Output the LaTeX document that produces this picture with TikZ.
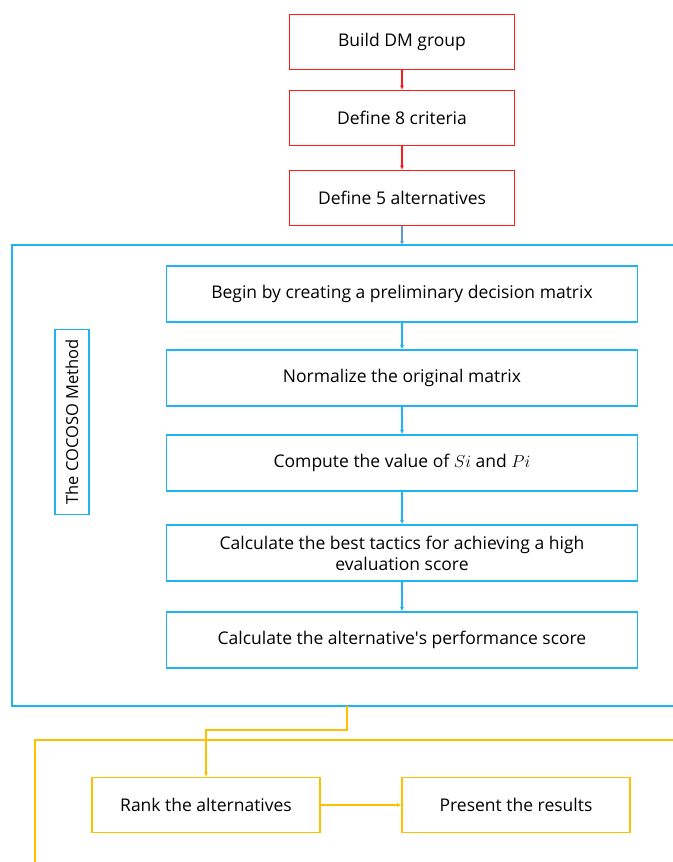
\documentclass[tikz,border=0pt]{standalone}
\usepackage{fontspec}
\setmainfont{Open Sans}
\usetikzlibrary{arrows.meta}
\definecolor{cred}{HTML}{FF1A1A}
\definecolor{cblue}{HTML}{1EB4F0}
\definecolor{carrowblue}{HTML}{5B9BD5}
\definecolor{cyel}{HTML}{FFC000}
\begin{document}
\begin{tikzpicture}[x=1pt,y=-1pt,
  boxfont/.style={font=\fontsize{17.5}{21}\selectfont},
  redbox/.style={draw=cred,line width=1.6pt,minimum width=225pt,minimum height=55pt,inner sep=0pt,boxfont},
  bluebox/.style={draw=cblue,line width=1.6pt,minimum width=471pt,minimum height=56pt,inner sep=0pt,align=center,boxfont},
  yelbox/.style={draw=cyel,line width=1.6pt,minimum width=228pt,minimum height=55pt,inner sep=0pt,boxfont},
  redarrow/.style={draw=cred,line width=1.3pt,-{Latex[length=4pt,width=4pt]}},
  bluearrow/.style={draw=cblue,line width=1.3pt,-{Latex[length=4pt,width=4pt]}},
  yelarrow/.style={draw=cyel,line width=1.3pt,-{Latex[length=4pt,width=4pt]}},
  frame/.style={line width=1.6pt}]
\useasboundingbox (0,0) rectangle (672,862);
% red boxes
\node[redbox] (red1) at (402,42) {Build DM group};
\node[redbox] (red2) at (402,118) {Define 8 criteria};
\node[redbox] (red3) at (402,198) {Define 5 alternatives};
\draw[redarrow] (red1) -- (red2);
\draw[redarrow] (red2) -- (red3);
% blue frame
\coordinate (ftop) at (402,245);
\coordinate (fbot) at (347,706);
\draw[draw=cblue,frame] (673,245) -- (12,245) -- (12,706) -- (673,706);
\draw[draw=carrowblue,line width=1.3pt,-{Latex[length=4pt,width=4pt]}] (red3.south) -- (ftop);
% blue inner boxes
\node[bluebox] (b1) at (402,294) {Begin by creating a preliminary decision matrix};
\node[bluebox] (b2) at (402,378) {Normalize the original matrix};
\node[bluebox] (b3) at (402,463) {Compute the value of $Si$ and $Pi$};
\node[bluebox] (b4) at (402,553) {Calculate the best tactics for achieving a high\\evaluation score};
\node[bluebox] (b5) at (402,640) {Calculate the alternative\textquotesingle s performance score};
\draw[bluearrow] (b1) -- (b2);
\draw[bluearrow] (b2) -- (b3);
\draw[bluearrow] (b3) -- (b4);
\draw[bluearrow] (b4) -- (b5);
% label
\node[draw=cblue,line width=1.6pt,rotate=90,minimum width=185pt,minimum height=34pt,inner sep=0pt,font=\fontsize{16.5}{20}\selectfont] (lbl) at (72,422) {The COCOSO Method};
% yellow frame
\draw[draw=cyel,frame] (673,740) -- (35,740) -- (35,863);
\node[yelbox] (rank) at (206,805) {Rank the alternatives};
\node[yelbox] (present) at (516,805) {Present the results};
\coordinate (ymid) at (347,730);
\draw[yelarrow] (fbot) -- (ymid) -| (rank.north);
\draw[yelarrow] (rank) -- (present);
\end{tikzpicture}
\end{document}
